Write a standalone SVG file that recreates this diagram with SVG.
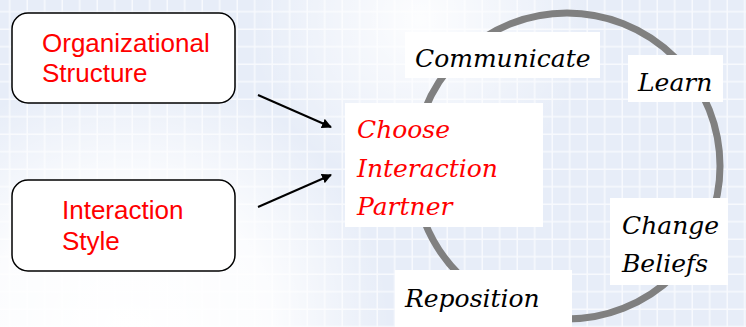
<svg xmlns="http://www.w3.org/2000/svg" width="746" height="327" viewBox="0 0 746 327">
  <defs>
    <pattern id="tiles" x="-8" y="-6" width="17.5" height="17.5" patternUnits="userSpaceOnUse">
      <rect x="1" y="1" width="16" height="16" fill="#e7edf8"/>
    </pattern>
    <radialGradient id="fadeBL" cx="130" cy="330" r="260" gradientUnits="userSpaceOnUse">
      <stop offset="0" stop-color="#ffffff" stop-opacity="1"/>
      <stop offset="0.55" stop-color="#ffffff" stop-opacity="0.85"/>
      <stop offset="1" stop-color="#ffffff" stop-opacity="0"/>
    </radialGradient>
    <radialGradient id="fadeTop" cx="420" cy="20" r="170" gradientUnits="userSpaceOnUse">
      <stop offset="0" stop-color="#ffffff" stop-opacity="0.9"/>
      <stop offset="1" stop-color="#ffffff" stop-opacity="0"/>
    </radialGradient>
    <marker id="arrow" viewBox="0 0 10 10" refX="9" refY="5" markerWidth="5" markerHeight="5" orient="auto" markerUnits="strokeWidth">
      <path d="M0,0 L10,5 L0,10 z" fill="#000"/>
    </marker>
    <style>
      .box { fill: #ffffff; stroke: #000000; stroke-width: 1.5; }
      .sans { font-family: "Liberation Sans", Arial, sans-serif; font-size: 26px; fill: #ff0000; }
      .serif { font-family: "DejaVu Serif", "Liberation Serif", serif; font-style: italic; font-size: 25px; }
      .black { fill: #000000; }
      .red { fill: #ff0000; }
      .plate { fill: #ffffff; }
      .link { stroke: #000000; stroke-width: 2; fill: none; marker-end: url(#arrow); }
    </style>
  </defs>

  <!-- tiled backdrop -->
  <rect width="746" height="327" fill="#f7f9fd"/>
  <rect width="746" height="327" fill="url(#tiles)"/>
  <rect width="746" height="327" fill="url(#fadeBL)"/>
  <rect width="746" height="327" fill="url(#fadeTop)"/>

  <!-- cycle ring -->
  <circle cx="567" cy="166" r="153" fill="none" stroke="#808080" stroke-width="7"/>

  <g id="org-structure">
    <rect class="box" x="12" y="13" width="223" height="90" rx="16"/>
    <text class="sans" x="42" y="52">Organizational</text>
    <text class="sans" x="42" y="82">Structure</text>
  </g>

  <g id="interaction-style">
    <rect class="box" x="12" y="180" width="223" height="91" rx="16"/>
    <text class="sans" x="62" y="219">Interaction</text>
    <text class="sans" x="62" y="250">Style</text>
  </g>

  <g id="choose-partner">
    <rect class="plate" x="345" y="103" width="198" height="124"/>
    <text class="serif red" x="357" y="138">Choose</text>
    <text class="serif red" x="357" y="177">Interaction</text>
    <text class="serif red" x="357" y="215">Partner</text>
  </g>

  <g id="communicate">
    <rect class="plate" x="405" y="32" width="195" height="46"/>
    <text class="serif black" x="415" y="67">Communicate</text>
  </g>

  <g id="learn">
    <rect class="plate" x="628" y="55" width="95" height="47"/>
    <text class="serif black" x="638" y="91">Learn</text>
  </g>

  <g id="change-beliefs">
    <rect class="plate" x="610" y="198" width="118" height="87"/>
    <text class="serif black" x="622" y="234">Change</text>
    <text class="serif black" x="622" y="272">Beliefs</text>
  </g>

  <g id="reposition">
    <rect class="plate" x="395" y="270" width="177" height="57"/>
    <text class="serif black" x="405" y="307">Reposition</text>
  </g>

  <g id="connectors">
    <line class="link" x1="258" y1="95" x2="331" y2="127"/>
    <line class="link" x1="258" y1="207" x2="331" y2="175"/>
  </g>
</svg>
